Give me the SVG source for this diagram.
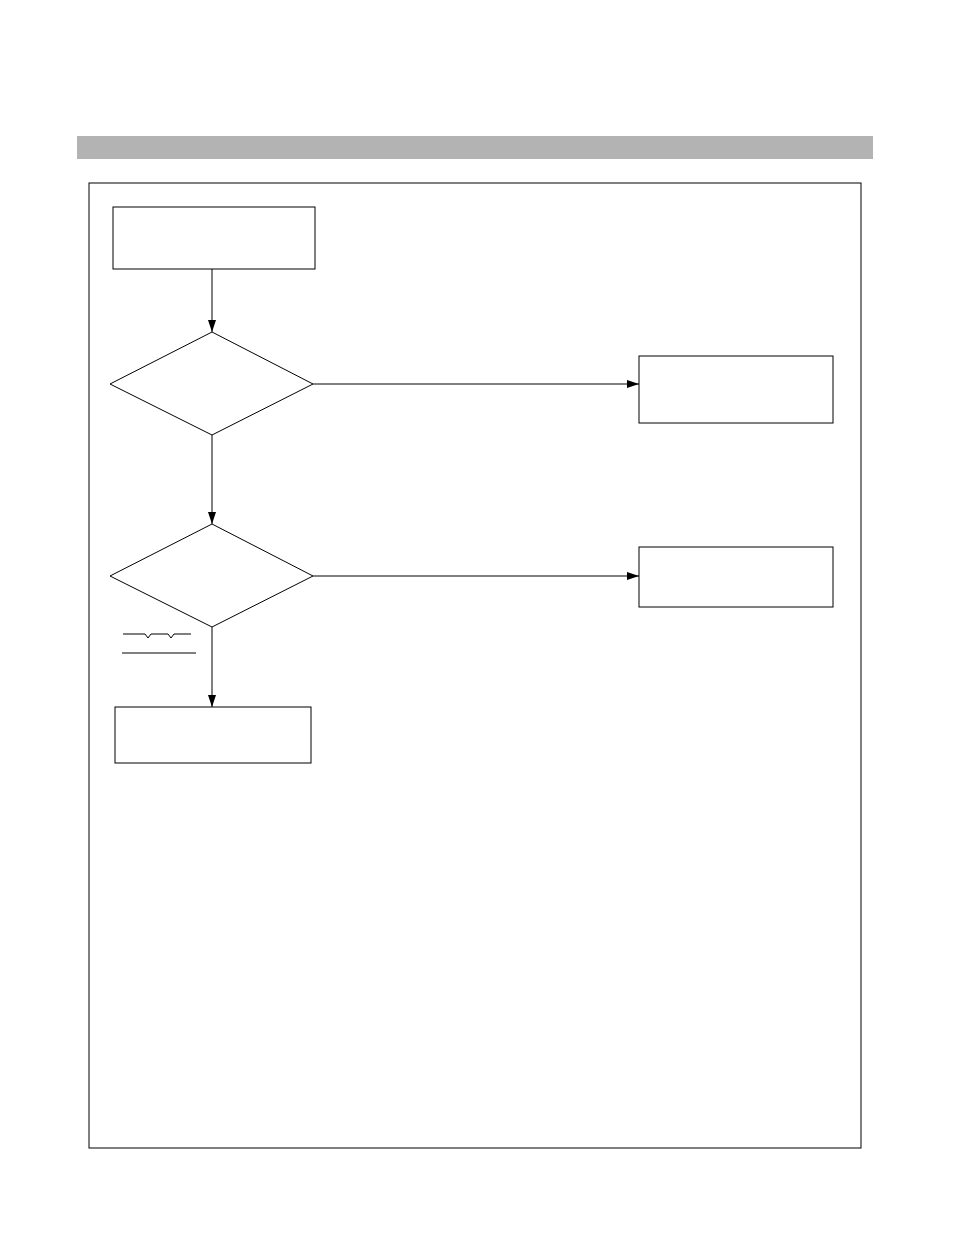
<svg xmlns="http://www.w3.org/2000/svg" width="954" height="1235" viewBox="0 0 954 1235">
<style>.n{fill:#fff;stroke:#000;stroke-width:1}.c{fill:none;stroke:#000;stroke-width:1}</style>
<defs><marker id="a" markerWidth="12" markerHeight="8" refX="12" refY="4" orient="auto" markerUnits="userSpaceOnUse"><path d="M0,0L12,4L0,8z" fill="#000"/></marker></defs>
<rect x="0" y="0" width="954" height="1235" fill="#fff"/>
<rect x="77" y="136" width="796" height="23" fill="#b3b3b3"/>
<rect x="89" y="183" width="772" height="965" class="n"/>
<g id="start"><rect x="113" y="207" width="202" height="62" class="n"/></g>
<g id="d1"><polygon points="212,332 313,384 212,435 110,384" class="n"/></g>
<g id="r1"><rect x="639" y="356" width="194" height="67" class="n"/></g>
<g id="d2"><polygon points="212,524 313,576 212,627 110,576" class="n"/></g>
<g id="r2"><rect x="639" y="547" width="194" height="60" class="n"/></g>
<g id="end"><rect x="115" y="707" width="196" height="56" class="n"/></g>
<g id="sym" class="c"><path d="M123,634H145L148,638L151,634H168L171,638L174,634H191"/><path d="M122,653H196"/></g>
<g id="connectors" class="c">
<path d="M212,269V332" marker-end="url(#a)"/>
<path d="M313,384H639" marker-end="url(#a)"/>
<path d="M212,435V524" marker-end="url(#a)"/>
<path d="M313,576H639" marker-end="url(#a)"/>
<path d="M212,627V707" marker-end="url(#a)"/>
</g>
</svg>
